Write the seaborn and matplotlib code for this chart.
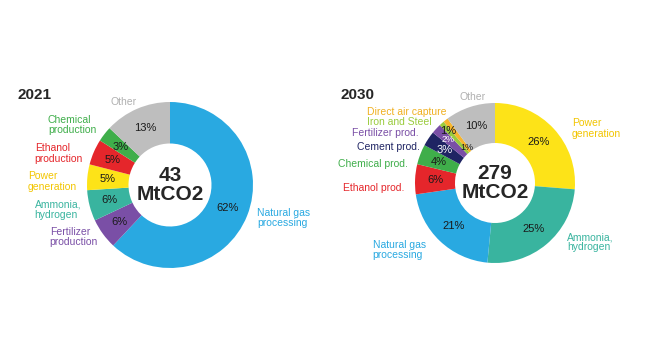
import numpy as np
import seaborn as sns
import matplotlib.pyplot as plt

sns.set_style('white')
plt.rcParams['font.family'] = ['Liberation Sans', 'DejaVu Sans']

# 2021 breakdown, clockwise from 12 o'clock
sectors_2021 = ['Natural gas\nprocessing', 'Fertilizer\nproduction', 'Ammonia,\nhydrogen',
                'Power\ngeneration', 'Ethanol\nproduction', 'Chemical\nproduction', 'Other']
shares_2021 = [62, 6, 6, 5, 5, 3, 13]
total_2021 = 43

# 2030 breakdown, clockwise from 12 o'clock
sectors_2030 = ['Power\ngeneration', 'Ammonia,\nhydrogen', 'Natural gas\nprocessing', 'Ethanol prod.',
                'Chemical prod.', 'Cement prod.', 'Fertilizer prod.', 'Iron and Steel',
                'Direct air capture', 'Other']
shares_2030 = [26, 25, 21, 6, 4, 3, 2, 1, 1, 10]
total_2030 = 279

colors = {
    'Natural gas\nprocessing': '#29a9e1',
    'Fertilizer\nproduction': '#7a4fa6', 'Fertilizer prod.': '#7a4fa6',
    'Ammonia,\nhydrogen': '#39b49f',
    'Power\ngeneration': '#fde318',
    'Ethanol\nproduction': '#e5262b', 'Ethanol prod.': '#e5262b',
    'Chemical\nproduction': '#3fae4a', 'Chemical prod.': '#3fae4a',
    'Cement prod.': '#1f2463',
    'Iron and Steel': '#9acb3c',
    'Direct air capture': '#f6b52c',
    'Other': '#bebebe',
}
label_colors = dict(colors)
label_colors['Power\ngeneration'] = '#f2c500'
label_colors['Direct air capture'] = '#f0b020'
label_colors['Other'] = '#b0b0b0'

# outside label anchors (left x, centre y) in units of the ring radius
pos_2021 = {
    'Natural gas\nprocessing': (1.05, -0.40), 'Fertilizer\nproduction': (-1.45, -0.63),
    'Ammonia,\nhydrogen': (-1.63, -0.30), 'Power\ngeneration': (-1.71, 0.04),
    'Ethanol\nproduction': (-1.63, 0.38), 'Chemical\nproduction': (-1.47, 0.72),
    'Other': (-0.72, 1.0),
}
pos_2030 = {
    'Power\ngeneration': (0.96, 0.68), 'Ammonia,\nhydrogen': (0.90, -0.74),
    'Natural gas\nprocessing': (-1.53, -0.84), 'Ethanol prod.': (-1.90, -0.06),
    'Chemical prod.': (-1.96, 0.24), 'Cement prod.': (-1.73, 0.45),
    'Fertilizer prod.': (-1.79, 0.625), 'Iron and Steel': (-1.60, 0.76),
    'Direct air capture': (-1.60, 0.89), 'Other': (-0.44, 1.075),
}
pct_radius_2030 = {'Iron and Steel': 0.88, 'Direct air capture': 0.56, 'Fertilizer prod.': 0.8}
white_pct = ['Cement prod.', 'Fertilizer prod.']
small_pct = ['Fertilizer prod.', 'Direct air capture']


def donut(ax, sectors, shares, total, pos, pct_radius):
    wedges, _ = ax.pie(shares, colors=[colors[s] for s in sectors], startangle=90,
                       counterclock=False, radius=1,
                       wedgeprops=dict(width=0.5, linewidth=0))
    for w, s, v in zip(wedges, sectors, shares):
        ang = np.deg2rad((w.theta1 + w.theta2) / 2)
        r = pct_radius.get(s, 0.75)
        ax.text(r * np.cos(ang), r * np.sin(ang), f'{v}%', ha='center', va='center',
                fontsize=6.5 if s in small_pct else 8,
                color='white' if s in white_pct else '#1a1a1a')
        x, y = pos[s]
        ax.text(x, y, s, ha='left', va='center', fontsize=7.5, color=label_colors[s],
                linespacing=1.05, clip_on=False)
    ax.text(0, 0, f'{total}\nMtCO2', ha='center', va='center', fontsize=15,
            fontweight='bold', linespacing=1.0)
    ax.set_xlim(-1, 1)
    ax.set_ylim(-1, 1)
    ax.set_aspect('equal')
    ax.axis('off')


fig = plt.figure(figsize=(6.45, 3.5), dpi=100)
ax1 = fig.add_axes([(170 - 83) / 645, (350 - 185 - 83) / 350, 166 / 645, 166 / 350])
ax2 = fig.add_axes([(495 - 80) / 645, (350 - 183 - 80) / 350, 160 / 645, 160 / 350])

donut(ax1, sectors_2021, shares_2021, total_2021, pos_2021, {})
donut(ax2, sectors_2030, shares_2030, total_2030, pos_2030, pct_radius_2030)

fig.text(18 / 645, 1 - 95 / 350, '2021', fontsize=11, fontweight='bold', va='center')
fig.text(340 / 645, 1 - 95 / 350, '2030', fontsize=11, fontweight='bold', va='center')

plt.savefig('out.png', dpi=100)
